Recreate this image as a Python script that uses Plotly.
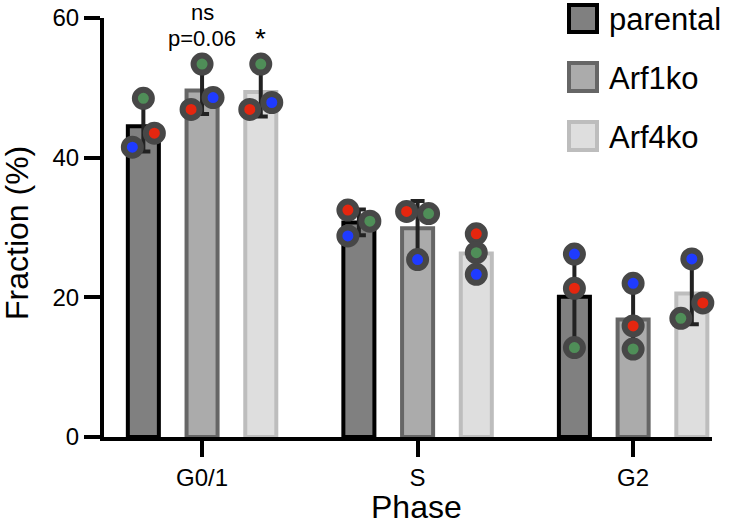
import numpy as np
import plotly.graph_objects as go

# ---------------- data ----------------
phases = ["G0/1", "S", "G2"]
series = ["parental", "Arf1ko", "Arf4ko"]

# replicate values per series, one entry per phase (G0/1, S, G2)
red_vals = {
    "parental": [43.5, 32.5, 21.3],
    "Arf1ko":   [46.9, 32.3, 15.9],
    "Arf4ko":   [46.9, 29.1, 19.2],
}
green_vals = {
    "parental": [48.5, 30.9, 12.8],
    "Arf1ko":   [53.4, 32.0, 12.6],
    "Arf4ko":   [53.4, 26.4, 17.0],
}
blue_vals = {
    "parental": [41.5, 28.8, 26.2],
    "Arf1ko":   [48.6, 25.4, 22.0],
    "Arf4ko":   [47.9, 23.3, 25.5],
}
# horizontal jitter (in steps) of each replicate dot
red_jit = {"parental": [1, -1, 0], "Arf1ko": [-1, -1, 0], "Arf4ko": [-1, 0, 1]}
green_jit = {"parental": [0, 1, 0], "Arf1ko": [0, 1, 0], "Arf4ko": [0, 0, -1]}
blue_jit = {"parental": [-1, -1, 0], "Arf1ko": [1, 0, 0], "Arf4ko": [1, 0, 0]}

y_ticks = [0, 20, 40, 60]

# ---------------- styles ----------------
FONT = "Liberation Sans, Arial, Helvetica, sans-serif"
fills = {"parental": "#808080", "Arf1ko": "#ABABAB", "Arf4ko": "#DEDEDE"}
edges = {"parental": "#000000", "Arf1ko": "#666666", "Arf4ko": "#BDBDBD"}
dot_colors = {"red": "#E5260F", "green": "#4F8E58", "blue": "#1F3BFF"}
RING = "#474747"

BAR_STEP = 0.2724
BAR_W = 0.144
JIT = 0.051

gx = np.arange(len(phases))

fig = go.Figure()

for k, s in enumerate(series):
    reps = np.array([red_vals[s], green_vals[s], blue_vals[s]])
    mean = reps.mean(axis=0)
    sd = reps.std(axis=0, ddof=1)
    fig.add_trace(go.Bar(
        x=gx + (k - 1) * BAR_STEP, y=mean, width=BAR_W, name=s,
        marker=dict(color=fills[s], line=dict(color=edges[s], width=4)),
        error_y=dict(type="data", array=sd, visible=True, color="#222222",
                     thickness=4, width=7),
        showlegend=False,
    ))

for cname, vals, jit in [("red", red_vals, red_jit), ("green", green_vals, green_jit),
                         ("blue", blue_vals, blue_jit)]:
    xs, ys = [], []
    for k, s in enumerate(series):
        for i in range(len(phases)):
            xs.append(gx[i] + (k - 1) * BAR_STEP + jit[s][i] * JIT)
            ys.append(vals[s][i])
    fig.add_trace(go.Scatter(
        x=xs, y=ys, mode="markers", showlegend=False, cliponaxis=False,
        marker=dict(size=17, color=dot_colors[cname], line=dict(color=RING, width=6)),
    ))

# ---------------- layout ----------------
L, R, T, B = 104, 20, 18, 88
W, H = 732, 525
PW, PH = W - L - R, H - T - B


def px2paper_x(px):
    return (px - L) / PW


def px2paper_y(py):
    return (H - B - py) / PH


shapes = []
annotations = []
legend_rows = [(3, 34), (61, 93), (120, 152)]
for s, (y0, y1) in zip(series, legend_rows):
    shapes.append(dict(type="rect", xref="paper", yref="paper",
                       x0=px2paper_x(569), x1=px2paper_x(597),
                       y0=px2paper_y(y1 - 2), y1=px2paper_y(y0 + 2),
                       fillcolor=fills[s], line=dict(color=edges[s], width=4)))
    annotations.append(dict(xref="paper", yref="paper", x=px2paper_x(607),
                            y=px2paper_y((y0 + y1) / 2 + 1), text=s, showarrow=False,
                            xanchor="left", yanchor="middle",
                            font=dict(size=31, family=FONT, color="black")))

annotations += [
    dict(xref="x", yref="paper", x=gx[0], y=px2paper_y(12.5), text="ns", showarrow=False,
         xanchor="center", yanchor="middle", font=dict(size=22, family=FONT, color="black")),
    dict(xref="x", yref="paper", x=gx[0], y=px2paper_y(38.5), text="p=0.06", showarrow=False,
         xanchor="center", yanchor="middle", font=dict(size=22, family=FONT, color="black")),
    dict(xref="x", yref="paper", x=gx[0] + BAR_STEP, y=px2paper_y(38), text="*", showarrow=False,
         xanchor="center", yanchor="middle", font=dict(size=28, family=FONT, color="black")),
    dict(xref="paper", yref="paper", x=px2paper_x(416), y=px2paper_y(507), text="Phase",
         showarrow=False, xanchor="center", yanchor="middle",
         font=dict(size=32, family=FONT, color="black")),
    dict(xref="paper", yref="paper", x=px2paper_x(17), y=px2paper_y(233), text="Fraction (%)",
         showarrow=False, xanchor="center", yanchor="middle", textangle=-90,
         font=dict(size=32, family=FONT, color="black")),
]

fig.update_layout(
    width=W, height=H,
    margin=dict(l=L, r=R, t=T, b=B, pad=0, autoexpand=False),
    plot_bgcolor="white", paper_bgcolor="white",
    barmode="overlay",
    font=dict(family=FONT, color="black"),
    shapes=shapes, annotations=annotations,
    xaxis=dict(range=[-0.455, 2.366], tickvals=list(gx), ticktext=phases,
               showline=True, linecolor="black", linewidth=4, mirror=False,
               ticks="outside", ticklen=16, tickwidth=4, tickcolor="black",
               showgrid=False, zeroline=False, automargin=False,
               tickfont=dict(size=24, family=FONT, color="black")),
    yaxis=dict(range=[0, 60], tickvals=y_ticks,
               showline=True, linecolor="black", linewidth=4,
               ticks="outside", ticklen=16, tickwidth=4, tickcolor="black",
               showgrid=False, zeroline=False, automargin=False,
               tickfont=dict(size=24, family=FONT, color="black")),
)

fig.write_html("out.html", config={"displayModeBar": False},
               post_script="document.body.style.margin='0';document.body.style.overflow='hidden';")
